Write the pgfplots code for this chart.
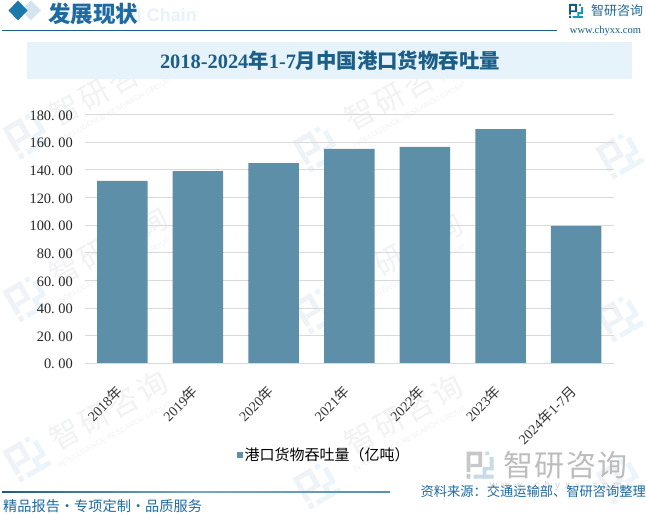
\documentclass[border=0pt]{standalone}
\usepackage{pgfplots}
\pgfplotsset{compat=1.18}
\usepackage{fontspec}
\setmainfont{Liberation Serif}
\newfontfamily\cjk{Noto Sans CJK SC}
\newfontfamily\hsans{Liberation Sans}
\newcommand{\C}[1]{{\cjk #1}}
\newcommand{\fs}[1]{\fontsize{#1}{#1}\selectfont}
\definecolor{barc}{HTML}{5D8FA8}
\definecolor{deep}{HTML}{1B5E88}
\definecolor{band}{HTML}{E6F3FB}
\definecolor{blue}{HTML}{1F6AA0}
\definecolor{wmA}{HTML}{EFF2F6}
\definecolor{wmB}{HTML}{ECF5FA}
\definecolor{wmT}{HTML}{F1F2F4}
\definecolor{lightd}{HTML}{D5E5EF}
\newcommand{\logo}[6]{%
 \begin{scope}[shift={(#1,514-#2)},rotate=#4,scale=#3]
  \fill[#5] (-5,5) rectangle (0.8,3.6) (-0.6,5) rectangle (0.8,-0.8) (-3.4,0.4) rectangle (0.8,-0.8)
            (-5,5) rectangle (-3.6,-2.6) (-5,-3.4) rectangle (-3.6,-5);
  \fill[#6] (2,5) rectangle (3.4,3.7) (3.6,3) rectangle (5,-2) (1,-0.8) rectangle (5,-2)
            (1,-0.8) rectangle (2.4,-3.6) (-2.4,-3.6) rectangle (5,-5);
 \end{scope}}
\newcommand{\wmlogo}[2]{\logo{#1}{#2}{3.6}{30}{wmA}{wmB}}
\newcommand{\wmtext}[2]{%
 \node[rotate=29,text=wmT,font=\cjk\fs{30},anchor=west,inner sep=0pt] at (#1,514-#2) {智\kern3pt 研\kern3pt 咨\kern3pt 询};
 \node[rotate=29,text=wmT,font=\hsans\fs{7.5},anchor=west,inner sep=0pt] at (#1+6,514-#2-24) {INTELLIGENCE RESEARCH GROUP};}
\begin{document}
\begin{tikzpicture}[x=1pt,y=1pt]
\fill[white] (0,0) rectangle (647,514);
% watermarks
\foreach \a/\b in {27/135,27/298,27/458,317/148,317/310,317/485,620/155,620/318,620/480}{\wmlogo{\a}{\b}}
\foreach \a/\b in {52/118,52/278,52/442,347/122,347/284,347/446}{\wmtext{\a}{\b}}
% header
\fill[lightd] (31,514-0.5) -- ++(10,-10) -- ++(-10,-10) -- ++(-10,10) -- cycle;
\fill[blue!90!cyan] (18,514-0.5) -- ++(9.5,-10) -- ++(-9.5,-10) -- ++(-9.5,10) -- cycle;
\node[anchor=east,inner sep=0pt,text=band,font=\hsans\bfseries\fs{18}] at (197,514-15.5) {Industrial Chain};
\node[anchor=west,inner sep=0pt,text=blue,font=\cjk\bfseries\fs{22.5}] at (48,514-14) {发展现状};
\draw[deep,line width=1pt] (2,514-31) -- (557,514-31);
\logo{576}{11}{1.4}{0}{deep!70!blue!90!black}{blue!70!cyan}
\node[anchor=west,inner sep=0pt,text=blue,font=\cjk\fs{13}] at (591,514-11) {智研咨询};
\node[anchor=center,inner sep=0pt,text=deep,font=\fs{10.5}] at (605.5,514-31) {www.chyxx.com};
% title band
\fill[band] (27,514-42) rectangle (632,514-79);
\node[anchor=center,inner sep=0pt,text=deep,font=\bfseries\fs{20.4}] at (330,514-61) {2018-2024\C{年}1-7\C{月中国港口货物吞吐量}};
% footer
\logo{480}{465}{2.7}{0}{black!22}{blue!25!white}
\node[anchor=west,inner sep=0pt,text=black!26,font=\cjk\fs{30}] at (503,514-465) {智\kern1.5pt 研\kern1.5pt 咨\kern1.5pt 询};
\node[anchor=west,inner sep=0pt,text=black!18,font=\hsans\fs{10}] at (490,514-486) {w\kern5pt w\kern5pt w\kern5pt .\kern5pt c\kern5pt h\kern5pt y\kern5pt x\kern5pt x\kern5pt .\kern5pt c\kern5pt o\kern5pt m};
\shade[left color=deep,right color=blue!75!white,middle color=blue!60!white] (2,514-491) rectangle (390,514-492.6);
\node[anchor=west,inner sep=0pt,text=blue,font=\cjk\fs{14.2}] at (3,514-506.5) {精品报告·专项定制·品质服务};
\node[anchor=east,inner sep=0pt,text=blue,font=\cjk\fs{13.25}] at (646,514-491.5) {资料来源：交通运输部、智研咨询整理};
\begin{axis}[
  at={(84.5pt,150.7pt)},anchor=south west,
  scale only axis,width=529.5pt,height=248.8pt,
  xmin=-0.5,xmax=6.5,ymin=0,ymax=180,
  axis line style={draw=none},
  clip=false,
  ymajorgrids,
  grid style={draw=black!15,line width=1pt},
  major tick length=0pt,
  ytick={0,20,...,180},
  yticklabels={0.\kern3.6pt 00,20.\kern3.6pt 00,40.\kern3.6pt 00,60.\kern3.6pt 00,80.\kern3.6pt 00,100.\kern3.6pt 00,120.\kern3.6pt 00,140.\kern3.6pt 00,160.\kern3.6pt 00,180.\kern3.6pt 00},
  yticklabel style={font=\fs{14.4},text=black!85,anchor=east,inner sep=0pt,xshift=-11.5pt,yshift=-1pt},
  xtick={0,1,2,3,4,5,6},
  xticklabels={2018\C{年},2019\C{年},2020\C{年},2021\C{年},2022\C{年},2023\C{年},2024\C{年}1-7\C{月}},
  xticklabel style={font=\fs{14},text=black!80,rotate=45,anchor=north east,inner sep=0pt,yshift=-9.5pt,xshift=-20pt},
  legend style={at={(0.453,-0.3686)},anchor=center,draw=none,fill=none,font=\cjk\fs{15},text=black,inner sep=0pt,/tikz/every even column/.style={column sep=3.5pt}},
  legend image code/.code={\fill[barc] (0cm,-2.8pt) rectangle (5.6pt,2.8pt);},
]
\addplot[ybar,bar width=50.5pt,fill=barc,draw=none] coordinates {(0,131.9) (1,139.1) (2,144.9) (3,155.1) (4,156.5) (5,169.5) (6,99.4)};
\addlegendentry{港口货物吞吐量（亿吨）}
\draw[black!15,line width=1pt] (axis cs:-0.5,0) -- (axis cs:6.5,0);
\end{axis}
\pgfresetboundingbox
\path[use as bounding box] (0,0) rectangle (647,514);
\end{tikzpicture}
\end{document}
